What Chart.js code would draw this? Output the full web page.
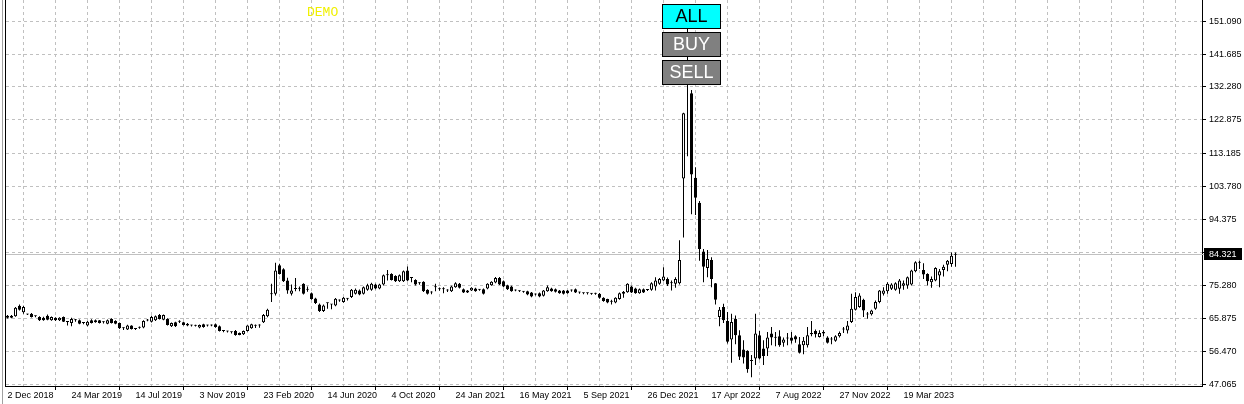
<!DOCTYPE html>
<html>
<head>
<meta charset="utf-8">
<script src="https://cdn.jsdelivr.net/npm/chart.js@4"></script>
<style>
  html, body { margin: 0; padding: 0; background: #fff; }
  #wrap { position: relative; width: 1244px; height: 404px; }
</style>
</head>
<body>
<div id="wrap"><canvas id="chart"></canvas></div>
<script>
// weekly bars, 2 Dec 2018 .. Jun 2023
const xLabels = ['2 Dec 2018', '24 Mar 2019', '14 Jul 2019', '3 Nov 2019', '23 Feb 2020', '14 Jun 2020',
    '4 Oct 2020', '24 Jan 2021', '16 May 2021', '5 Sep 2021', '26 Dec 2021', '17 Apr 2022',
    '7 Aug 2022', '27 Nov 2022', '19 Mar 2023'];

const yTicks = [47.065, 56.470, 65.875, 75.280, 84.970, 94.375, 103.780, 113.185, 122.875, 132.280, 141.685, 151.090];
const yTickLabels = ['47.065', '56.470', '65.875', '75.280', '', '94.375', '103.780', '113.185', '122.875', '132.280', '141.685', '151.090'];

const opens = [
    66.73, 66.16, 66.54, 69.58, 67.68, 67.11, 67.30, 66.60, 66.35, 66.16,
    66.73, 65.40, 66.16, 65.40, 66.35, 65.00, 64.64, 65.45, 65.40, 64.66,
    63.88, 65.40, 65.40, 65.40, 64.85, 64.45, 65.78, 65.21, 64.64, 63.14,
    62.74, 63.88, 62.95, 63.29, 63.31, 65.38, 65.02, 65.40, 66.92, 65.59,
    65.78, 63.69, 64.83, 65.00, 64.83, 64.45, 63.90, 63.86, 63.31, 64.26,
    63.88, 63.90, 64.26, 63.69, 62.38, 62.19, 62.00, 62.36, 61.22, 61.41,
    62.36, 63.12, 63.86, 63.88, 64.83, 66.54, 73.00, 73.00, 81.16, 80.00,
    76.80, 73.00, 74.40, 74.45, 75.85, 74.15, 73.19, 71.67, 69.96, 68.06,
    70.30, 69.94, 69.67, 71.07, 70.62, 71.55, 72.05, 73.00, 73.95, 73.00,
    74.14, 74.14, 75.66, 74.52, 75.66, 78.30, 78.70, 78.13, 76.61, 76.61,
    79.65, 77.55, 76.99, 76.00, 76.42, 74.14, 73.38, 74.90, 74.33, 74.35,
    73.95, 73.76, 74.90, 75.85, 74.33, 73.95, 73.95, 74.52, 74.14, 74.33,
    74.52, 75.47, 76.23, 77.56, 76.61, 75.47, 75.09, 73.97, 73.78, 73.57,
    73.76, 73.38, 72.81, 73.19, 72.43, 73.76, 74.52, 74.33, 73.95, 73.95,
    73.95, 73.93, 74.33, 73.40, 73.19, 73.21, 73.00, 73.02, 73.00, 71.86,
    71.48, 70.72, 70.53, 71.48, 73.00, 73.47, 75.09, 74.52, 73.19, 74.33,
    74.12, 74.14, 75.09, 75.85, 76.80, 77.27, 76.04, 75.85, 76.04, 106.04,
    133.00, 130.45, 106.24, 99.11, 85.15, 80.40, 82.68, 76.04, 66.35, 69.20,
    65.21, 59.89, 65.88, 61.13, 57.04, 56.66, 53.74, 54.47, 61.13, 57.33,
    57.33, 61.60, 60.44, 60.84, 58.94, 60.18, 60.46, 60.84, 58.56, 58.28,
    58.28, 61.79, 62.36, 60.65, 62.08, 60.46, 59.89, 59.51, 60.84, 62.74,
    62.45, 64.93, 68.44, 69.20, 71.29, 67.10, 67.11, 68.72, 70.62, 73.00,
    73.76, 74.42, 74.14, 74.42, 75.28, 75.37, 75.66, 79.46, 81.90, 79.84,
    78.70, 76.32, 76.80, 78.22, 79.84, 81.35, 81.54, 84.20
];
const highs = [
    66.90, 66.90, 69.20, 69.96, 69.60, 67.30, 67.50, 66.80, 66.60, 66.40,
    67.10, 66.50, 66.30, 66.30, 66.50, 65.10, 66.16, 65.80, 65.60, 64.90,
    65.20, 65.70, 65.60, 65.50, 65.10, 65.60, 66.00, 65.40, 64.80, 63.40,
    64.10, 64.00, 63.20, 63.60, 65.40, 65.80, 66.70, 66.80, 67.20, 67.10,
    66.00, 64.80, 65.00, 65.40, 65.00, 64.60, 64.10, 64.10, 64.20, 64.40,
    64.10, 64.20, 64.50, 63.90, 62.60, 62.40, 62.20, 62.60, 61.90, 62.50,
    64.00, 64.40, 64.20, 64.30, 67.20, 68.70, 75.85, 81.92, 81.60, 80.30,
    77.60, 75.66, 77.56, 75.10, 76.00, 75.10, 73.40, 71.90, 70.20, 69.90,
    70.50, 70.10, 71.80, 71.40, 72.10, 71.80, 74.40, 74.50, 74.20, 75.10,
    75.90, 76.20, 75.90, 75.90, 78.50, 79.84, 78.90, 78.30, 78.50, 79.70,
    80.80, 77.75, 77.20, 76.30, 76.60, 74.30, 73.70, 75.85, 74.80, 74.90,
    74.30, 75.30, 76.30, 76.10, 74.50, 74.10, 74.90, 74.70, 74.40, 74.50,
    76.00, 76.60, 77.80, 77.80, 76.80, 75.60, 75.30, 74.20, 74.00, 73.80,
    73.90, 73.50, 73.10, 73.40, 74.10, 75.40, 74.70, 74.50, 74.10, 74.10,
    74.10, 74.20, 74.50, 73.60, 73.40, 73.40, 73.20, 73.30, 73.20, 72.00,
    71.60, 71.30, 72.00, 73.40, 73.80, 76.00, 75.30, 74.70, 74.50, 74.50,
    74.40, 76.30, 77.75, 77.50, 80.60, 77.70, 76.80, 77.75, 88.38, 124.90,
    150.00, 131.40, 109.30, 99.60, 85.82, 85.53, 83.44, 76.10, 69.20, 70.15,
    67.77, 67.30, 66.80, 62.55, 59.70, 56.85, 55.43, 67.30, 62.36, 59.70,
    62.08, 63.50, 62.08, 62.55, 60.46, 61.79, 62.08, 61.13, 60.65, 60.65,
    63.50, 65.21, 62.74, 62.55, 62.55, 60.84, 60.65, 61.13, 62.17, 63.50,
    65.21, 73.00, 73.47, 73.19, 71.57, 67.77, 68.40, 71.10, 74.10, 74.90,
    76.30, 76.00, 76.30, 77.27, 76.80, 77.94, 79.90, 82.30, 82.50, 81.73,
    78.89, 77.94, 80.60, 80.12, 81.35, 82.68, 84.87, 84.87
];
const lows = [
    65.90, 66.00, 66.40, 68.20, 67.30, 66.90, 66.20, 66.30, 65.20, 65.30,
    65.40, 65.30, 65.20, 65.20, 64.90, 63.88, 63.70, 65.00, 64.30, 64.30,
    63.70, 64.50, 64.70, 64.50, 64.50, 64.30, 64.50, 64.30, 62.90, 62.60,
    62.60, 62.80, 62.60, 63.00, 63.10, 65.10, 64.80, 65.20, 65.60, 65.40,
    63.90, 63.50, 63.50, 64.60, 63.90, 63.70, 63.60, 63.60, 63.10, 63.30,
    63.60, 63.70, 63.30, 62.20, 62.00, 61.90, 61.60, 61.00, 61.10, 61.20,
    62.20, 63.00, 63.20, 63.30, 64.60, 66.30, 70.62, 72.50, 78.50, 76.40,
    73.00, 72.50, 73.76, 73.76, 72.80, 73.60, 71.30, 70.10, 67.80, 67.80,
    68.70, 68.60, 69.40, 70.70, 70.40, 71.10, 71.80, 72.80, 72.60, 72.80,
    73.90, 73.90, 74.30, 74.30, 75.40, 76.80, 76.80, 76.40, 76.40, 76.40,
    76.60, 76.32, 75.40, 75.60, 73.50, 72.80, 72.90, 73.76, 73.90, 73.19,
    73.50, 73.50, 74.70, 74.50, 73.20, 73.20, 73.80, 73.60, 73.90, 72.80,
    74.30, 75.30, 76.00, 75.50, 74.90, 74.10, 73.60, 73.70, 73.50, 73.30,
    72.60, 72.00, 72.50, 72.00, 72.20, 73.60, 73.60, 73.40, 73.00, 72.80,
    73.00, 73.60, 73.20, 73.00, 72.90, 72.80, 72.70, 72.70, 71.60, 70.70,
    70.30, 69.96, 70.30, 71.30, 71.90, 73.30, 73.20, 73.00, 73.00, 73.20,
    73.80, 73.90, 73.95, 75.60, 76.60, 75.20, 73.95, 74.70, 75.66, 89.14,
    112.41, 95.79, 95.60, 82.50, 76.32, 77.75, 74.90, 69.96, 63.69, 64.64,
    58.75, 53.24, 58.56, 54.00, 53.05, 50.40, 49.06, 52.58, 54.19, 52.58,
    55.14, 58.28, 57.99, 57.80, 57.80, 58.28, 58.75, 58.94, 55.90, 55.71,
    57.61, 60.84, 60.46, 60.46, 60.84, 58.75, 58.56, 59.23, 60.46, 61.79,
    61.60, 64.64, 68.25, 69.00, 66.35, 65.88, 66.80, 68.40, 70.30, 72.50,
    73.00, 74.10, 73.90, 73.00, 74.14, 74.42, 75.40, 79.20, 80.10, 77.27,
    75.37, 74.71, 76.60, 74.90, 77.94, 79.46, 80.78, 80.78
];
const closes = [
    66.16, 66.73, 69.01, 68.44, 69.20, 67.05, 66.35, 66.54, 65.40, 65.40,
    65.59, 66.35, 65.40, 66.16, 65.02, 64.95, 65.78, 65.40, 64.45, 64.64,
    65.02, 64.64, 64.83, 64.64, 64.83, 65.40, 64.64, 64.45, 63.12, 63.12,
    63.88, 62.93, 62.93, 63.31, 65.21, 65.40, 66.35, 66.54, 65.78, 66.92,
    64.07, 64.64, 63.69, 65.02, 64.07, 63.88, 63.88, 63.88, 64.07, 63.50,
    63.90, 63.88, 63.50, 62.36, 62.36, 62.17, 61.98, 61.22, 61.79, 62.36,
    63.88, 64.26, 63.88, 63.90, 66.92, 68.44, 72.90, 79.65, 78.70, 76.61,
    73.95, 73.95, 74.42, 74.42, 73.00, 74.13, 71.48, 70.34, 68.06, 69.67,
    70.34, 69.96, 71.57, 71.10, 71.86, 71.57, 74.14, 74.14, 72.81, 74.90,
    75.47, 75.85, 74.52, 75.66, 78.32, 78.32, 76.99, 76.61, 78.32, 79.46,
    76.80, 77.56, 75.66, 76.04, 73.76, 73.00, 73.40, 74.88, 74.35, 74.33,
    73.97, 75.09, 76.04, 74.71, 73.38, 73.38, 74.71, 73.76, 74.13, 73.00,
    75.85, 76.42, 77.56, 75.66, 75.09, 74.33, 73.76, 73.95, 73.76, 73.59,
    72.81, 72.24, 72.80, 72.24, 73.95, 74.90, 73.76, 73.57, 73.19, 73.00,
    73.19, 73.95, 73.38, 73.38, 73.21, 73.19, 73.02, 73.00, 71.86, 70.91,
    70.53, 70.70, 71.86, 73.19, 73.57, 75.85, 73.38, 73.19, 74.33, 73.38,
    74.14, 76.04, 76.80, 77.27, 77.94, 75.66, 76.06, 77.27, 82.68, 124.75,
    136.00, 107.19, 100.54, 85.82, 80.78, 82.97, 77.27, 71.29, 68.44, 65.40,
    59.23, 64.93, 61.13, 54.95, 54.77, 51.35, 53.72, 61.60, 54.47, 55.14,
    60.46, 60.46, 60.46, 58.28, 59.89, 60.17, 59.51, 59.89, 56.09, 59.51,
    61.13, 61.41, 61.41, 61.79, 61.60, 58.94, 59.91, 60.84, 61.79, 62.76,
    63.88, 68.72, 72.05, 72.52, 68.25, 67.11, 68.25, 70.62, 73.95, 73.95,
    75.85, 75.66, 76.04, 76.80, 76.04, 77.75, 79.65, 82.02, 81.92, 78.51,
    76.61, 77.27, 80.40, 79.46, 80.78, 82.49, 83.92, 84.321
];

const FONT = "'Liberation Sans', Arial, sans-serif";
Chart.defaults.font.family = FONT;
Chart.defaults.font.size = 9;
Chart.defaults.color = '#000';

const bodies = opens.map((o, i) => ({x: i, y: [o, closes[i]]}));
const wicks = lows.map((l, i) => ({x: i, y: [l, highs[i]]}));
const bodyColors = opens.map((o, i) => closes[i] > o + 0.05 ? '#ffffff' : '#000000');

// current price line, price box, buttons, DEMO, frame
const overlay = {
    id: 'overlay',
    beforeDatasetsDraw(chart) {
        const {ctx, chartArea, scales} = chart;
        const y = Math.round(scales.y.getPixelForValue(closes[closes.length - 1])) + 0.5;
        ctx.save();
        ctx.strokeStyle = '#c0c0c0';
        ctx.lineWidth = 1;
        ctx.beginPath();
        ctx.moveTo(chartArea.left, y);
        ctx.lineTo(chartArea.right + 2, y);
        ctx.stroke();
        ctx.restore();
    },
    afterDraw(chart) {
        const {ctx, chartArea, scales} = chart;
        const last = closes[closes.length - 1];
        const y = Math.round(scales.y.getPixelForValue(last));
        ctx.save();
        // price box
        ctx.fillStyle = '#000';
        ctx.fillRect(chartArea.right + 2, y - 6, 38, 12);
        ctx.fillStyle = '#fff';
        ctx.font = '9px ' + FONT;
        ctx.textBaseline = 'middle';
        ctx.textAlign = 'left';
        ctx.fillText(last.toFixed(3), chartArea.right + 7, y + 0.5);

        // left frame
        ctx.strokeStyle = '#000';
        ctx.beginPath();
        ctx.moveTo(5.5, 0);
        ctx.lineTo(5.5, chartArea.bottom + 1);
        ctx.stroke();
        ctx.strokeStyle = '#a0a0a0';
        ctx.beginPath();
        ctx.moveTo(2.5, 0);
        ctx.lineTo(2.5, 404);
        ctx.stroke();

        // DEMO
        ctx.fillStyle = '#f0f000';
        ctx.font = "13px 'Liberation Mono', monospace";
        ctx.textBaseline = 'alphabetic';
        ctx.fillText('DEMO', 307, 16);

        // buttons
        const buttons = [
            {text: 'ALL', y: 4.5, fill: '#00ffff', color: '#000'},
            {text: 'BUY', y: 32.5, fill: '#808080', color: '#fff'},
            {text: 'SELL', y: 60.5, fill: '#808080', color: '#fff'}
        ];
        ctx.font = '18px ' + FONT;
        ctx.textAlign = 'center';
        ctx.textBaseline = 'middle';
        buttons.forEach(b => {
            ctx.fillStyle = b.fill;
            ctx.fillRect(662.5, b.y, 58, 24);
            ctx.strokeStyle = '#000';
            ctx.lineWidth = 1;
            ctx.strokeRect(662.5, b.y, 58, 24);
            ctx.fillStyle = b.color;
            ctx.fillText(b.text, 691.5, b.y + 13);
        });
        ctx.restore();
    }
};

new Chart(document.getElementById('chart'), {
    type: 'bar',
    data: {
        datasets: [{
            label: 'body',
            data: bodies,
            backgroundColor: bodyColors,
            borderColor: '#000',
            borderWidth: 1,
            borderSkipped: false,
            barThickness: 3,
            minBarLength: 1,
            inflateAmount: 0,
            grouped: false,
            order: 0
        }, {
            label: 'wick',
            data: wicks,
            backgroundColor: '#000',
            borderWidth: 0,
            barThickness: 1,
            minBarLength: 1,
            inflateAmount: 0,
            grouped: false,
            order: 1
        }]
    },
    options: {
        responsive: true,
        maintainAspectRatio: false,
        animation: false,
        events: [],
        layout: {padding: {left: 6, top: 0, right: 0, bottom: 0}},
        plugins: {
            legend: {display: false},
            tooltip: {enabled: false}
        },
        scales: {
            x: {
                type: 'linear',
                offset: false,
                min: -0.375,
                max: 298.625,
                afterBuildTicks(scale) {
                    const t = [];
                    for (let v = 0; v <= 296; v += 8) t.push({value: v});
                    scale.ticks = t;
                },
                afterFit(scale) {
                    scale.height = 18;
                    scale.paddingLeft = 0;
                    scale.paddingRight = 0;
                },
                ticks: {
                    autoSkip: false,
                    maxRotation: 0,
                    align: 'start',
                    padding: 0,
                    callback(value) {
                        const k = value / 16;
                        return (value % 16 === 0 && k < xLabels.length) ? xLabels[k] : '';
                    }
                },
                grid: {
                    color: ctx => (ctx.tick && ctx.tick.value === 0) ? 'rgba(0,0,0,0)' : '#c0c0c0',
                    tickLength: 4,
                    tickColor: ctx => (ctx.tick && ctx.tick.value % 16 === 0 && ctx.tick.value / 16 < xLabels.length) ? '#000' : 'rgba(0,0,0,0)',
                    tickBorderDash: []
                },
                border: {display: true, color: '#000', width: 1, dash: [3, 3]}
            },
            y: {
                type: 'linear',
                position: 'right',
                min: 46.578,
                max: 157.195,
                afterBuildTicks(scale) {
                    scale.ticks = yTicks.map(v => ({value: v}));
                },
                afterFit(scale) {
                    scale.width = 42;
                    scale.paddingTop = 0;
                    scale.paddingBottom = 0;
                },
                ticks: {
                    autoSkip: false,
                    padding: 3,
                    callback(value, index) { return yTickLabels[index]; }
                },
                grid: {
                    color: '#c0c0c0',
                    tickLength: 4,
                    tickColor: '#000',
                    tickBorderDash: []
                },
                border: {display: true, color: '#000', width: 1, dash: [3, 3]}
            }
        }
    },
    plugins: [overlay]
});
</script>
</body>
</html>
